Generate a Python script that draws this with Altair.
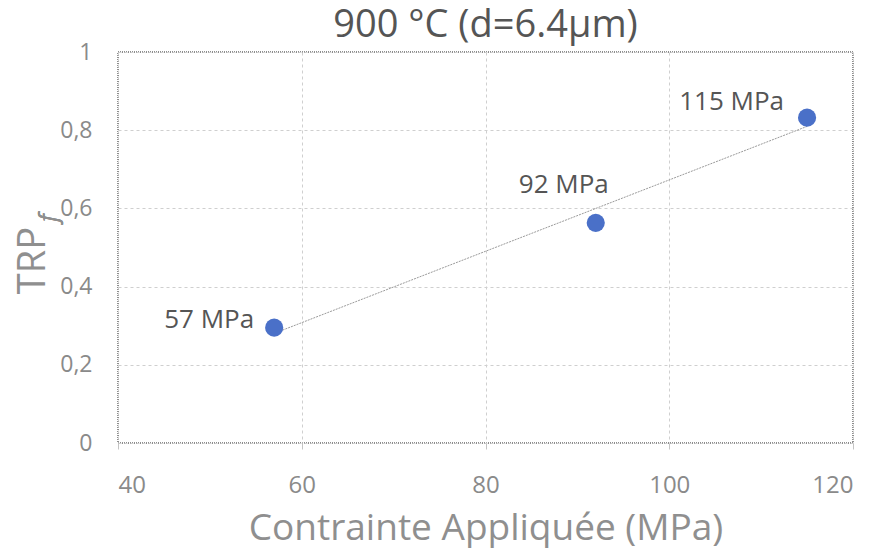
import altair as alt
import pandas as pd

stress = [57, 92, 115]
trp = [0.295, 0.563, 0.832]
labels = ["57 MPa", "92 MPa", "115 MPa"]

df = pd.DataFrame({"stress": stress, "trp": trp, "label": labels})

FONT = "Open Sans"

x = alt.X("stress:Q", scale=alt.Scale(domain=[40, 120], nice=False),
          axis=alt.Axis(values=[40, 60, 80, 100, 120], title="Contrainte Appliquée (MPa)",
                        labelFontSize=24, labelColor="#8a8a8a", labelFont=FONT,
                        labelPadding=24, tickColor="#c4c4c4", tickSize=6,
                        titleFontSize=37, titleColor="#8f8f8f", titleFont=FONT,
                        titleFontWeight="normal", titleY=96, titleBaseline="alphabetic",
                        grid=True, gridColor="#cfcfcf", gridDash=[3, 3],
                        domain=False))
y = alt.Y("trp:Q", scale=alt.Scale(domain=[0, 1], nice=False),
          axis=alt.Axis(values=[0, 0.2, 0.4, 0.6, 0.8, 1],
                        labelExpr="replace(format(datum.value, '~g'), '.', ',')",
                        title="TRP", labelFontSize=23, labelColor="#8a8a8a", labelFont=FONT,
                        labelPadding=26, ticks=False,
                        titleFontSize=38, titleColor="#8f8f8f", titleFont=FONT,
                        titleFontWeight="normal", titleX=-74, titleY=208,
                        titleBaseline="alphabetic",
                        grid=True, gridColor="#cfcfcf", gridDash=[3, 3],
                        domain=False))

base = alt.Chart(df)

line = base.transform_regression("stress", "trp", extent=[57, 115]).mark_line(
    color="#9a9a9a", strokeWidth=1, strokeDash=[2, 1]).encode(x=x, y=y)

pts = base.mark_circle(size=330, color="#4a70c8", opacity=1).encode(x=x, y=y)

def lab(name, align, dx, dy):
    return base.transform_filter(alt.datum.label == name).mark_text(
        align=align, baseline="middle", dx=dx, dy=dy, fontSize=26, font=FONT,
        color="#555555").encode(x="stress:Q", y="trp:Q", text="label:N")

l1 = lab("57 MPa", "right", -20, -8)
l2 = lab("92 MPa", "center", -32, -38)
l3 = lab("115 MPa", "right", -23, -16)

sub = alt.Chart(df).mark_text(text="f", angle=270, fontSize=25, font=FONT,
                              fontStyle="italic", color="#8f8f8f").encode(
    x=alt.value(-69), y=alt.value(166))

chart = alt.layer(line, pts, l1, l2, l3, sub).properties(
    width=735, height=391,
    title=alt.TitleParams("900 °C (d=6.4µm)", fontSize=38, font=FONT,
                          fontWeight="normal", color="#555555", offset=10, dy=14),
    padding={"left": 110, "top": 44, "right": 16, "bottom": 105},
    autosize=alt.AutoSizeParams(type="none"),
).configure_view(stroke="#6a6a6a", strokeWidth=1.5, strokeDash=[1, 1])

chart.save("out.html", embed_options={"renderer": "svg", "actions": False})
